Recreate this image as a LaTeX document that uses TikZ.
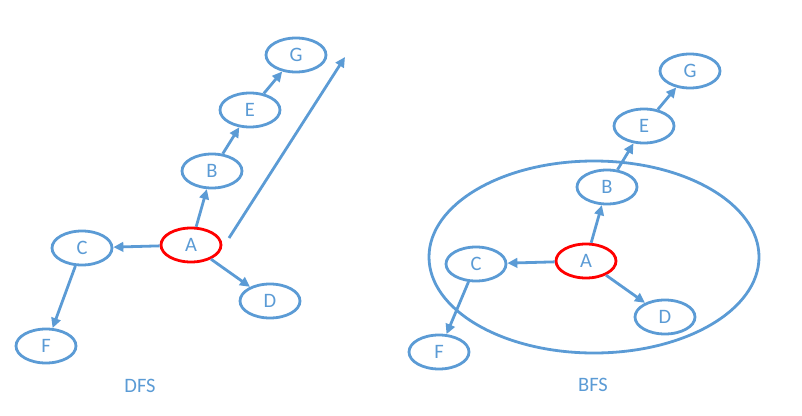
\documentclass[tikz,border=0pt]{standalone}
\usepackage{fontspec}
\setmainfont{Carlito}
\usetikzlibrary{shapes.geometric,arrows.meta}
\definecolor{nodeblue}{HTML}{5B9BD5}

\begin{document}
\begin{tikzpicture}
            [every node/.style={inner sep=0pt, font=\fontsize{20.5}{24}\selectfont, text=nodeblue},
             vertex/.style={ellipse, minimum width=60pt, minimum height=34pt, line width=2.8pt, draw=nodeblue},
             root/.style={vertex, draw=red},
             link/.style={line width=2.8pt, -{Triangle[length=10pt,width=9.5pt]}, color=nodeblue}]
                \useasboundingbox (0pt,0pt) rectangle (802pt,-415pt);
                % DFS
                \node (1) [root] at (191pt, -245pt) {A};
                \node (2) [vertex] at (212pt, -171pt) {B};
                \node (3) [vertex] at (82pt, -248pt) {C};
                \node (4) [vertex] at (270pt, -301pt) {D};
                \node (5) [vertex] at (250pt, -110pt) {E};
                \node (6) [vertex] at (46pt, -346pt) {F};
                \node (7) [vertex] at (296pt, -55pt) {G};
                \coordinate (8) at (229pt, -238pt);
                \coordinate (9) at (345pt, -57pt);
                \draw [link] (1) to (2);
                \draw [link] (1) to (3);
                \draw [link] (1) to (4);
                \draw [link] (2) to (5);
                \draw [link] (3) to (6);
                \draw [link] (5) to (7);
                \draw [link] (8) to (9);
                \node (10) at (140pt, -386pt) {DFS};
                % BFS
                \node (11) [ellipse, minimum width=330pt, minimum height=192pt, line width=2.8pt, draw=nodeblue] at (594pt, -257pt) {};
                \node (12) [root] at (586pt, -261pt) {A};
                \node (13) [vertex] at (607pt, -187pt) {B};
                \node (14) [vertex] at (476pt, -264pt) {C};
                \node (15) [vertex] at (665pt, -317pt) {D};
                \node (16) [vertex] at (644pt, -126pt) {E};
                \node (17) [vertex] at (439pt, -352pt) {F};
                \node (18) [vertex] at (690pt, -71pt) {G};
                \draw [link] (12) to (13);
                \draw [link] (12) to (14);
                \draw [link] (12) to (15);
                \draw [link] (13) to (16);
                \draw [link] (14) to (17);
                \draw [link] (16) to (18);
                \node (19) at (593pt, -385pt) {BFS};
            \end{tikzpicture}
\end{document}
